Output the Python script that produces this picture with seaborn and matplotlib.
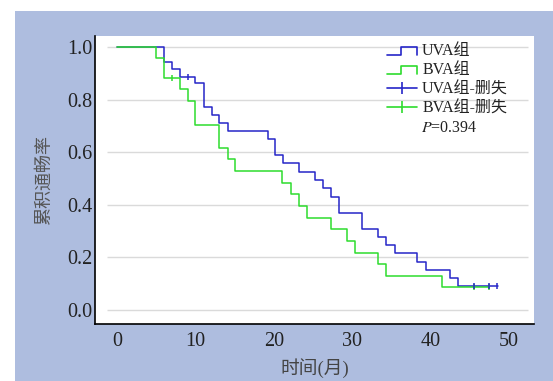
import matplotlib
matplotlib.use('Agg')
import matplotlib.pyplot as plt
import seaborn as sns
import pandas as pd
from matplotlib.lines import Line2D
from matplotlib.legend_handler import HandlerBase
from matplotlib.patches import Rectangle

# ── data ──────────────────────────────────────────────────────────────────
uva_t = [0, 6.0, 7.0, 8.0, 10.0, 11.1, 12.1, 13.0, 14.1, 19.2, 20.2, 21.2, 23.2,
         25.3, 26.3, 27.3, 28.3, 31.3, 33.3, 34.3, 35.4, 38.3, 39.4, 42.5, 43.5, 48.6]
uva_s = [1.0, 0.942, 0.915, 0.887, 0.862, 0.771, 0.741, 0.712, 0.681, 0.650, 0.588,
         0.558, 0.526, 0.494, 0.463, 0.431, 0.370, 0.309, 0.276, 0.246, 0.216, 0.184,
         0.152, 0.120, 0.091, 0.091]
uva_cens_t = [9.0, 45.5, 47.5, 48.5]
uva_cens_s = [0.887, 0.091, 0.091, 0.091]

bva_t = [0, 5.0, 6.0, 8.0, 9.0, 10.0, 13.0, 14.1, 15.1, 21.1, 22.2, 23.2, 24.2,
         27.3, 29.3, 30.3, 33.3, 34.3, 41.4, 47.5]
bva_s = [1.0, 0.959, 0.881, 0.839, 0.795, 0.703, 0.617, 0.575, 0.527, 0.484, 0.440,
         0.395, 0.351, 0.307, 0.262, 0.218, 0.174, 0.130, 0.086, 0.086]
bva_cens_t = [7.0, 45.5, 47.5]
bva_cens_s = [0.881, 0.086, 0.086]

labels = ['UVA组', 'BVA组', 'UVA组-删失', 'BVA组-删失']
p_text = r'$\it{P}$=0.394'
x_ticks = [0, 10, 20, 30, 40, 50]
y_ticks = [0.0, 0.2, 0.4, 0.6, 0.8, 1.0]

BLUE = '#2626C8'
GREEN = '#2EDC2E'
BG = '#AEBDDF'

sns.set_theme(style='white')
plt.rcParams['font.family'] = ['Liberation Serif', 'Noto Sans CJK SC']
plt.rcParams['mathtext.fontset'] = 'stix'

W, H = 553, 381
fig = plt.figure(figsize=(W / 100, H / 100), dpi=100, facecolor='white')
fig.patches.append(Rectangle((15 / W, 0), 1 - 15 / W, 1 - 11 / H, transform=fig.transFigure,
                             facecolor=BG, edgecolor='none', zorder=-10))
ax = fig.add_axes([95 / W, 1 - 324 / H, (534 - 95) / W, (324 - 36) / H])
ax.set_facecolor('white')

# grid lines (shorter than the axes)
ax.hlines(y_ticks, -1.3, 52.4, color='#DADADA', lw=1.0, zorder=1)

df_u = pd.DataFrame({'t': uva_t, 's': uva_s})
df_b = pd.DataFrame({'t': bva_t, 's': bva_s})
sns.lineplot(data=df_u, x='t', y='s', drawstyle='steps-post', estimator=None,
             color=BLUE, lw=1.1, ax=ax, zorder=3)
sns.lineplot(data=df_b, x='t', y='s', drawstyle='steps-post', estimator=None,
             color=GREEN, lw=1.1, ax=ax, zorder=4)
ax.plot(bva_cens_t, bva_cens_s, ls='none', marker='|', ms=5, mew=1.1, color=GREEN, zorder=5)
ax.plot(uva_cens_t, uva_cens_s, ls='none', marker='|', ms=5, mew=1.1, color=BLUE, zorder=5)

ax.set_xlim(-2.81, 53.19)
ax.set_ylim(-0.053, 1.042)
ax.set_xticks(x_ticks)
ax.set_yticks(y_ticks)
ax.set_yticklabels([f'{v:.1f}' for v in y_ticks])
ax.tick_params(axis='both', length=0, labelsize=14.5, colors='#222222')
ax.tick_params(axis='x', pad=6)
ax.tick_params(axis='y', pad=2)
for side in ['top', 'right']:
    ax.spines[side].set_visible(False)
for side in ['left', 'bottom']:
    ax.spines[side].set_color('black')
    ax.spines[side].set_linewidth(1.2)
ax.set_xlabel('时间(月)', fontsize=13.5, color='#444444', labelpad=5)
ax.set_ylabel('累积通畅率', fontsize=13, color='#555555', labelpad=10)


class StepHandler(HandlerBase):
    def create_artists(self, legend, orig_handle, xdescent, ydescent, width, height, fontsize, trans):
        x0 = -xdescent
        x1 = x0 + width
        xm = x0 + 0.45 * width
        ylo = -ydescent + 0.0 * height
        yhi = -ydescent + 0.75 * height
        ln = Line2D([x0, xm, xm, x1, x1], [ylo, ylo, yhi, yhi, ylo],
                    color=orig_handle.get_color(), lw=1.2)
        ln.set_transform(trans)
        return [ln]


h_u = Line2D([], [], color=BLUE)
h_b = Line2D([], [], color=GREEN)
h_uc = Line2D([], [], color=BLUE, lw=1.2, marker='|', ms=9, mew=1.2)
h_bc = Line2D([], [], color=GREEN, lw=1.2, marker='|', ms=9, mew=1.2)
leg = fig.legend([h_u, h_b, h_uc, h_bc], labels, loc='upper left',
                 bbox_to_anchor=(387 / W, 1 - 43 / H), frameon=False, fontsize=11.5,
                 handlelength=1.9, handletextpad=0.3, labelspacing=0.2,
                 borderpad=0, borderaxespad=0, numpoints=1,
                 handler_map={h_u: StepHandler(), h_b: StepHandler()})
for t in leg.get_texts():
    t.set_color('#222222')
fig.text(421 / W, 1 - 128 / H, p_text, fontsize=11.5, color='#222222', va='center', ha='left')

fig.savefig('out.png', dpi=100)
